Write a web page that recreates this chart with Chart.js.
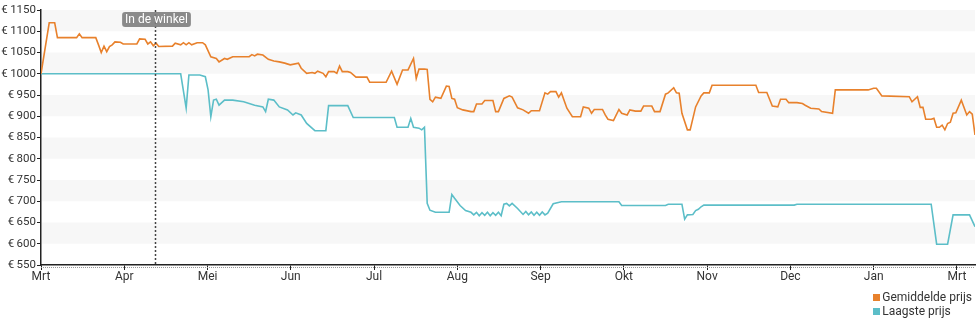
<!DOCTYPE html>
<html>
<head>
<meta charset="utf-8">
<script src="https://cdn.jsdelivr.net/npm/chart.js@4.4.1/dist/chart.umd.min.js"></script>
<style>
  body { margin: 0; background: #fff; font-family: Roboto, sans-serif; }
  #wrap { position: relative; width: 980px; height: 325px; }
  #legend { position: absolute; right: 8px; top: 290px; font-size: 12px; color: #333; line-height: 14px; }
  #legend .it { display: flex; align-items: center; }
  #legend .sq { width: 7px; height: 7px; margin-right: 2px; }
</style>
</head>
<body>
<div id="wrap">
  <canvas id="chart" width="980" height="292"></canvas>
  <div id="legend"></div>
</div>
<script>
// days since start of the period
var monthLabels = ["Mrt", "Apr", "Mei", "Jun", "Jul", "Aug", "Sep", "Okt", "Nov", "Dec", "Jan", "Mrt"];
var monthStep = 30.4;
var storeDay = 41.7;
var storeLabel = "In de winkel";

var avgDays = [0,3,5,6,13,14,15,20,21,22,23,24,25,26,27,29,30,35,36,38,39,40,41,42,43,48,49,51,52,53,54,55,57,59,60,62,64,65,67,68,70,72,76,77,78,79,81,83,85,87,89,91,94,95,97,99,100,101,103,104,105,107,108,109,110,112,113,115,119,120,126,128,130,132,134,136,137,138,140,141,142,143,144,146,148,149,150,151,152,154,157,158,159,161,162,165,166,167,169,171,172,174,176,178,179,182,184,185,186,188,189,190,192,194,197,198,200,201,202,205,206,207,209,211,212,214,215,217,219,220,223,224,226,228,229,231,232,233,234,236,237,239,241,242,244,245,261,262,265,267,269,270,272,273,276,278,279,281,284,285,289,290,302,304,305,307,317,318,320,321,322,323,325,326,327,328,329,330,331,332,333,334,336,338,339,340,341];
var avgPrice = [1000,1120,1120,1085,1085,1094,1085,1085,1068,1050,1065,1052,1064,1068,1075,1074,1070,1070,1082,1081,1070,1075,1066,1072,1064,1065,1072,1068,1073,1068,1073,1068,1073,1073,1068,1040,1036,1028,1036,1034,1040,1040,1040,1045,1042,1046,1044,1034,1030,1028,1025,1021,1025,1013,1001,1003,1001,1006,1001,993,1005,1005,1001,1018,1005,1005,1003,992,992,980,980,1006,975,1009,1009,1036,989,1011,1011,1010,940,934,945,942,971,970,942,940,920,915,911,911,929,929,937,937,911,911,942,948,945,920,915,907,913,913,955,952,958,958,945,955,919,899,899,922,919,907,916,916,903,893,890,916,907,903,915,912,912,924,924,911,911,952,955,967,955,954,907,868,868,922,948,955,955,973,973,956,956,924,922,940,940,932,932,930,926,919,917,911,907,962,962,966,966,948,946,934,946,921,921,893,893,895,874,874,879,868,883,886,907,908,938,903,911,905,856];

var lowDays = [0,51,53,54,58,60,61,62,63,64,65,67,70,74,78,81,82,83,85,87,90,92,93,95,97,100,104,105,112,114,129,130,134,135,136,138,139,140,141,142,144,149,150,151,153,155,157,158,159,160,161,162,163,164,165,166,167,168,169,170,171,172,174,176,177,178,179,180,181,182,183,184,185,187,190,211,212,228,229,234,235,236,238,239,240,241,242,275,276,325,327,331,333,339,341];
var lowPrice = [1000,1000,919,997,997,993,962,899,938,940,926,938,938,934,926,922,911,940,938,922,915,903,908,903,883,866,866,925,925,897,897,874,874,895,874,872,868,874,695,679,674,674,716,707,690,678,674,668,674,666,673,667,674,666,673,667,674,666,693,695,689,695,683,669,676,668,675,667,674,667,675,668,672,694,699,699,690,690,693,693,658,668,669,678,681,687,691,691,693,693,599,599,668,668,640];

var seriesNames = ["Gemiddelde prijs", "Laagste prijs"];
var seriesColors = ["#e8812c", "#5cbec8"];

function pts(xs, ys) {
  return xs.map(function (d, i) { return { x: d, y: ys[i] }; });
}

var bandsPlugin = {
  id: "bands",
  beforeDatasetsDraw: function (chart) {
    var c = chart.ctx, y = chart.scales.y, a = chart.chartArea;
    c.save();
    c.fillStyle = "#f7f7f7";
    for (var v = 1150; v > 550; v -= 100) {
      var t = y.getPixelForValue(v), b = y.getPixelForValue(v - 50);
      c.fillRect(a.left + 1, t, a.right - a.left - 1, b - t);
    }
    c.restore();
  }
};

var storePlugin = {
  id: "store",
  afterDatasetsDraw: function (chart) {
    var c = chart.ctx, x = chart.scales.x, a = chart.chartArea;
    var px = Math.round(x.getPixelForValue(storeDay)) + 0.5;
    c.save();
    c.strokeStyle = "#444";
    c.lineWidth = 1.5;
    c.setLineDash([2, 2]);
    c.beginPath();
    c.moveTo(px, a.top);
    c.lineTo(px, a.bottom);
    c.stroke();
    c.setLineDash([]);
    c.font = "12px Roboto";
    var w = c.measureText(storeLabel).width + 6;
    c.fillStyle = "rgba(125,125,125,0.9)";
    c.beginPath();
    c.roundRect(px - w / 2 + 1, a.top + 2, w, 15, 3);
    c.fill();
    c.fillStyle = "#fff";
    c.textAlign = "center";
    c.textBaseline = "middle";
    c.fillText(storeLabel, px + 1, a.top + 10);
    // fine dotted strip under the x axis
    c.strokeStyle = "#999";
    c.lineWidth = 1;
    c.setLineDash([1, 1]);
    c.beginPath();
    c.moveTo(a.left, a.bottom + 2.5);
    c.lineTo(a.right, a.bottom + 2.5);
    c.stroke();
    c.restore();
  }
};

new Chart(document.getElementById("chart"), {
  type: "line",
  data: {
    datasets: [
      { label: seriesNames[0], data: pts(avgDays, avgPrice), borderColor: seriesColors[0], backgroundColor: seriesColors[0], borderWidth: 1.6, pointRadius: 0, tension: 0 },
      { label: seriesNames[1], data: pts(lowDays, lowPrice), borderColor: seriesColors[1], backgroundColor: seriesColors[1], borderWidth: 1.6, pointRadius: 0, tension: 0 }
    ]
  },
  options: {
    responsive: false,
    animation: false,
    layout: { padding: { top: 10, right: 5, left: 0, bottom: 0 } },
    plugins: { legend: { display: false }, tooltip: { enabled: false } },
    scales: {
      x: {
        type: "linear",
        min: 0,
        max: 341,
        afterBuildTicks: function (s) {
          s.ticks = monthLabels.map(function (m, i) { return { value: i * monthStep }; });
        },
        afterFit: function (s) { s.height = 27; },
        ticks: {
          autoSkip: false,
          maxRotation: 0,
          color: "#333",
          font: { family: "Roboto", size: 12 },
          padding: 0,
          callback: function (v, i) { return monthLabels[i]; }
        },
        grid: { drawOnChartArea: false, tickLength: 5, color: "#222" },
        border: { color: "#222", width: 1.5 }
      },
      y: {
        min: 550,
        max: 1150,
        afterFit: function (s) { s.width = 41; },
        ticks: {
          stepSize: 50,
          color: "#333",
          font: { family: "Roboto", size: 11.5 },
          padding: 1,
          callback: function (v) { return "€\u2009" + v; }
        },
        grid: { drawOnChartArea: false, tickLength: 4, color: "#222" },
        border: { color: "#222", width: 1.5 }
      }
    }
  },
  plugins: [bandsPlugin, storePlugin]
});

var lg = document.getElementById("legend");
seriesNames.forEach(function (n, i) {
  var d = document.createElement("div");
  d.className = "it";
  d.innerHTML = '<span class="sq" style="background:' + seriesColors[i] + '"></span>' + n;
  lg.appendChild(d);
});
</script>
</body>
</html>
